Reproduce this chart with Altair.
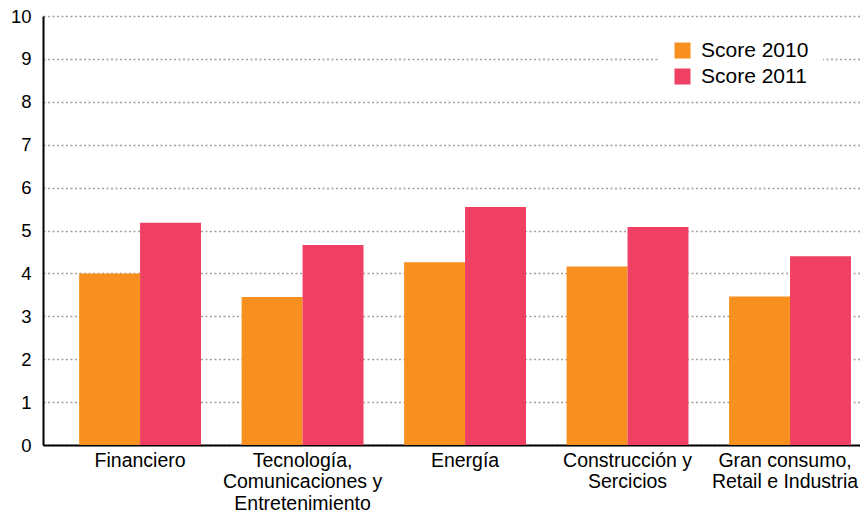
import altair as alt
import pandas as pd

categories = [
    "Financiero",
    "Tecnología,\nComunicaciones y\nEntretenimiento",
    "Energía",
    "Construcción y\nSercicios",
    "Gran consumo,\nRetail e Industria",
]
series = ["Score 2010", "Score 2011"]
score_2010 = [4.0, 3.45, 4.26, 4.16, 3.46]
score_2011 = [5.18, 4.66, 5.55, 5.08, 4.40]
colors = ["#F7901F", "#EF3F62"]
y_ticks = list(range(0, 11))

rows = []
for c, a, b in zip(categories, score_2010, score_2011):
    rows.append({"sector": c, "serie": series[0], "valor": a})
    rows.append({"sector": c, "serie": series[1], "valor": b})
df = pd.DataFrame(rows)

FONT = "Liberation Sans"

chart = (
    alt.Chart(df)
    .mark_bar()
    .encode(
        x=alt.X(
            "sector:N",
            sort=categories,
            scale=alt.Scale(paddingInner=0.25, paddingOuter=0.139, align=0.8),
            axis=alt.Axis(
                title=None,
                labelAngle=0,
                labelExpr="split(datum.label, '\\n')",
                labelFontSize=19.5,
                labelLineHeight=21.5,
                labelPadding=6,
                labelBaseline="top",
                labelOffset={"condition": {"test": "datum.index >= 0.99", "value": -5}, "value": 0},
                ticks=False,
                domainColor="#000000",
                domainWidth=2,
                grid=False,
            ),
        ),
        xOffset=alt.XOffset("serie:N", sort=series, scale=alt.Scale(paddingInner=0, paddingOuter=0)),
        y=alt.Y(
            "valor:Q",
            scale=alt.Scale(domain=[0, 10], nice=False),
            axis=alt.Axis(
                title=None,
                values=y_ticks,
                labelFontSize=18.5,
                labelPadding=12,
                ticks=False,
                domainColor="#000000",
                domainWidth=2,
                grid=True,
                gridColor="#a89e96",
                gridDash=[2, 2.5],
                gridWidth=1.6,
            ),
        ),
        color=alt.Color(
            "serie:N",
            sort=series,
            scale=alt.Scale(domain=series, range=colors),
            legend=alt.Legend(
                title=None,
                orient="none",
                legendX=615,
                legendY=10,
                symbolType="square",
                symbolSize=256,
                symbolStrokeWidth=0,
                labelFontSize=21,
                labelOffset=8,
                rowPadding=4,
                padding=14,
                fillColor="#ffffff",
                labelLimit=300,
            ),
        ),
    )
    .properties(
        width=817,
        height=429,
        padding={"left": 35, "top": 8, "right": 0, "bottom": 68},
        autosize=alt.AutoSizeParams(type="none"),
    )
    .configure(font=FONT)
    .configure_view(stroke=None)
    .configure_axis(labelColor="#000000", labelFont=FONT)
    .configure_legend(labelColor="#000000", labelFont=FONT)
)

chart.save("out.html", embed_options={"renderer": "svg", "actions": False})
